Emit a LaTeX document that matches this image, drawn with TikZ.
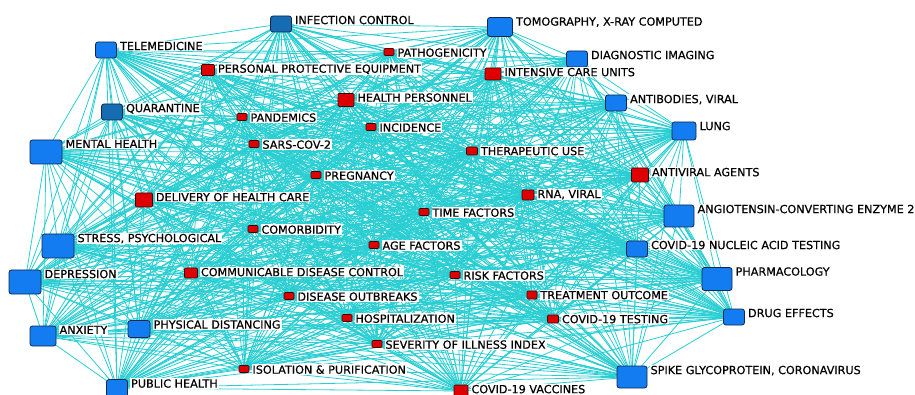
\documentclass[tikz,border=0pt]{standalone}
\usepackage{fontspec}
\setmainfont{DejaVu Sans}[BoldFont=DejaVu Sans, BoldFeatures={FakeBold=0.6}]
\usetikzlibrary{positioning, backgrounds}

\definecolor{linkcyan}{RGB}{40,206,210}
\definecolor{hubblue}{RGB}{18,124,240}
\definecolor{hubdark}{RGB}{22,108,178}
\definecolor{hubedge}{RGB}{18,38,78}
\definecolor{wordred}{RGB}{222,0,0}
\definecolor{wordedge}{RGB}{70,0,0}

\begin{document}
\begin{tikzpicture}[
    x=1pt, y=-1pt,
    hub/.style={draw=hubedge, fill=hubblue, line width=0.8pt, rounded corners=2.5pt, inner sep=0pt},
    hubxl/.style={hub, minimum width=32pt, minimum height=24pt},
    hubl/.style={hub, minimum width=30pt, minimum height=22pt},
    hubm/.style={hub, minimum width=25pt, minimum height=19pt},
    hubs/.style={hub, minimum width=21pt, minimum height=16pt},
    word/.style={draw=wordedge, fill=wordred, line width=0.6pt, rounded corners=1pt, inner sep=0pt},
    wordl/.style={word, minimum width=16pt, minimum height=13pt},
    wordm/.style={word, minimum width=13pt, minimum height=10pt},
    words/.style={word, minimum width=10pt, minimum height=7pt},
    lab/.style={fill=white, inner xsep=1pt, inner ysep=1pt, font=\fontsize{11.2}{12}\selectfont\bfseries},
    link/.style={draw=linkcyan, line width=0.8pt},
    ]
    \useasboundingbox (0,0) rectangle (915,395);

    % outer ring (blue)
    \node (infect) [hubs, fill=hubdark] at (281,24) {};
    \node (telemed) [hubs] at (106,50) {};
    \node (quarant) [hubs, fill=hubdark] at (112,112) {};
    \node (mental) [hubxl] at (46,152) {};
    \node (stress) [hubxl] at (58,246) {};
    \node (depress) [hubxl] at (25,282) {};
    \node (anxiety) [hubm, minimum width=26pt, minimum height=20pt] at (43,336) {};
    \node (distanc) [hubs, minimum width=22pt, minimum height=17pt] at (139,329) {};
    \node (publich) [hubs, minimum height=17pt] at (117,388) {};
    \node (tomo) [hubm] at (500,27) {};
    \node (diagimg) [hubs] at (577,59) {};
    \node (antibod) [hubs] at (616,103) {};
    \node (lung) [hubm, minimum width=24pt, minimum height=18pt] at (684,131) {};
    \node (ace) [hubl] at (679,216) {};
    \node (nucleic) [hubs] at (637,249) {};
    \node (pharma) [hubl, minimum height=23pt] at (717,279) {};
    \node (drugeff) [hubs] at (734,317) {};
    \node (spike) [hubl] at (632,377) {};

    % inner terms (red)
    \node (pathog) [words] at (389,52) {};
    \node (ppe) [wordm, minimum height=11pt] at (208,70) {};
    \node (icu) [wordl, minimum height=12pt] at (493,74) {};
    \node (personnel) [wordl] at (346,100) {};
    \node (pandem) [words] at (242,117) {};
    \node (incid) [words] at (371,127) {};
    \node (sars) [words] at (254,144) {};
    \node (therap) [words, minimum width=11pt, minimum height=8pt] at (472,151) {};
    \node (pregn) [words] at (316,175) {};
    \node (antivir) [wordl, minimum width=17pt, minimum height=14pt] at (640,175) {};
    \node (delivery) [wordl, minimum width=17pt, minimum height=14pt] at (144,200) {};
    \node (rna) [wordm, minimum width=12pt] at (528,195) {};
    \node (timef) [words] at (424,212) {};
    \node (comorb) [words] at (253,229) {};
    \node (agef) [words] at (374,245) {};
    \node (cdc) [wordm] at (191,273) {};
    \node (riskf) [words] at (455,275) {};
    \node (outbreak) [words] at (289,296) {};
    \node (treat) [words, minimum height=8pt] at (532,295) {};
    \node (hospit) [words] at (347,318) {};
    \node (testing) [words, minimum width=11pt, minimum height=8pt] at (553,319) {};
    \node (severity) [words] at (377,344) {};
    \node (isolat) [words] at (244,369) {};
    \node (vaccine) [wordl, minimum width=14pt, minimum height=12pt] at (461,391) {};

    % links
    \begin{scope}[on background layer]
        \foreach \a [count=\i] in {infect,telemed,quarant,mental,stress,depress,anxiety,distanc,publich,tomo,diagimg,antibod,lung,ace,nucleic,pharma,drugeff,spike,pathog,ppe,icu,personnel,pandem,incid,sars,therap,pregn,antivir,delivery,rna,timef,comorb,agef,cdc,riskf,outbreak,treat,hospit,testing,severity,isolat,vaccine}
            \foreach \b [count=\j] in {infect,telemed,quarant,mental,stress,depress,anxiety,distanc,publich,tomo,diagimg,antibod,lung,ace,nucleic,pharma,drugeff,spike,pathog,ppe,icu,personnel,pandem,incid,sars,therap,pregn,antivir,delivery,rna,timef,comorb,agef,cdc,riskf,outbreak,treat,hospit,testing,severity,isolat,vaccine}
                {\ifnum\j>\i \draw[link] (\a.center) -- (\b.center); \fi}
    \end{scope}

    % labels
    \node (infect-l) [lab, below right=-1pt and 2pt of infect.north east] {INFECTION CONTROL};
    \node (telemed-l) [lab, below right=-1pt and 2pt of telemed.north east] {TELEMEDICINE};
    \node (quarant-l) [lab, below right=-1pt and 2pt of quarant.north east] {QUARANTINE};
    \node (mental-l) [lab, below right=-1pt and 2pt of mental.north east] {MENTAL HEALTH};
    \node (stress-l) [lab, below right=-1pt and 2pt of stress.north east] {STRESS, PSYCHOLOGICAL};
    \node (depress-l) [lab, below right=-1pt and 2pt of depress.north east] {DEPRESSION};
    \node (anxiety-l) [lab, below right=-1pt and 2pt of anxiety.north east] {ANXIETY};
    \node (distanc-l) [lab, below right=-1pt and 2pt of distanc.north east] {PHYSICAL DISTANCING};
    \node (publich-l) [lab, below right=-1pt and 2pt of publich.north east] {PUBLIC HEALTH};
    \node (tomo-l) [lab, below right=-1pt and 2pt of tomo.north east] {TOMOGRAPHY, X-RAY COMPUTED};
    \node (diagimg-l) [lab, below right=-1pt and 2pt of diagimg.north east] {DIAGNOSTIC IMAGING};
    \node (antibod-l) [lab, below right=-1pt and 2pt of antibod.north east] {ANTIBODIES, VIRAL};
    \node (lung-l) [lab, below right=-1pt and 2pt of lung.north east] {LUNG};
    \node (ace-l) [lab, below right=-1pt and 2pt of ace.north east] {ANGIOTENSIN-CONVERTING ENZYME 2};
    \node (nucleic-l) [lab, below right=-1pt and 2pt of nucleic.north east] {COVID-19 NUCLEIC ACID TESTING};
    \node (pharma-l) [lab, below right=-1pt and 2pt of pharma.north east] {PHARMACOLOGY};
    \node (drugeff-l) [lab, below right=-1pt and 2pt of drugeff.north east] {DRUG EFFECTS};
    \node (spike-l) [lab, below right=-1pt and 2pt of spike.north east] {SPIKE GLYCOPROTEIN, CORONAVIRUS};

    \node (pathog-l) [lab, below right=-1pt and 2pt of pathog.north east] {PATHOGENICITY};
    \node (ppe-l) [lab, below right=-1pt and 2pt of ppe.north east] {PERSONAL PROTECTIVE EQUIPMENT};
    \node (icu-l) [lab, below right=-1pt and 2pt of icu.north east] {INTENSIVE CARE UNITS};
    \node (personnel-l) [lab, below right=-1pt and 2pt of personnel.north east] {HEALTH PERSONNEL};
    \node (pandem-l) [lab, below right=-1pt and 2pt of pandem.north east] {PANDEMICS};
    \node (incid-l) [lab, below right=-1pt and 2pt of incid.north east] {INCIDENCE};
    \node (sars-l) [lab, below right=-1pt and 2pt of sars.north east] {SARS-COV-2};
    \node (therap-l) [lab, below right=-1pt and 2pt of therap.north east] {THERAPEUTIC USE};
    \node (pregn-l) [lab, below right=-1pt and 2pt of pregn.north east] {PREGNANCY};
    \node (antivir-l) [lab, below right=-1pt and 2pt of antivir.north east] {ANTIVIRAL AGENTS};
    \node (delivery-l) [lab, below right=-1pt and 2pt of delivery.north east] {DELIVERY OF HEALTH CARE};
    \node (rna-l) [lab, below right=-1pt and 2pt of rna.north east] {RNA, VIRAL};
    \node (timef-l) [lab, below right=-1pt and 2pt of timef.north east] {TIME FACTORS};
    \node (comorb-l) [lab, below right=-1pt and 2pt of comorb.north east] {COMORBIDITY};
    \node (agef-l) [lab, below right=-1pt and 2pt of agef.north east] {AGE FACTORS};
    \node (cdc-l) [lab, below right=-1pt and 2pt of cdc.north east] {COMMUNICABLE DISEASE CONTROL};
    \node (riskf-l) [lab, below right=-1pt and 2pt of riskf.north east] {RISK FACTORS};
    \node (outbreak-l) [lab, below right=-1pt and 2pt of outbreak.north east] {DISEASE OUTBREAKS};
    \node (treat-l) [lab, below right=-1pt and 2pt of treat.north east] {TREATMENT OUTCOME};
    \node (hospit-l) [lab, below right=-1pt and 2pt of hospit.north east] {HOSPITALIZATION};
    \node (testing-l) [lab, below right=-1pt and 2pt of testing.north east] {COVID-19 TESTING};
    \node (severity-l) [lab, below right=-1pt and 2pt of severity.north east] {SEVERITY OF ILLNESS INDEX};
    \node (isolat-l) [lab, below right=-1pt and 2pt of isolat.north east] {ISOLATION \& PURIFICATION};
    \node (vaccine-l) [lab, below right=-1pt and 2pt of vaccine.north east] {COVID-19 VACCINES};
\end{tikzpicture}
\end{document}
